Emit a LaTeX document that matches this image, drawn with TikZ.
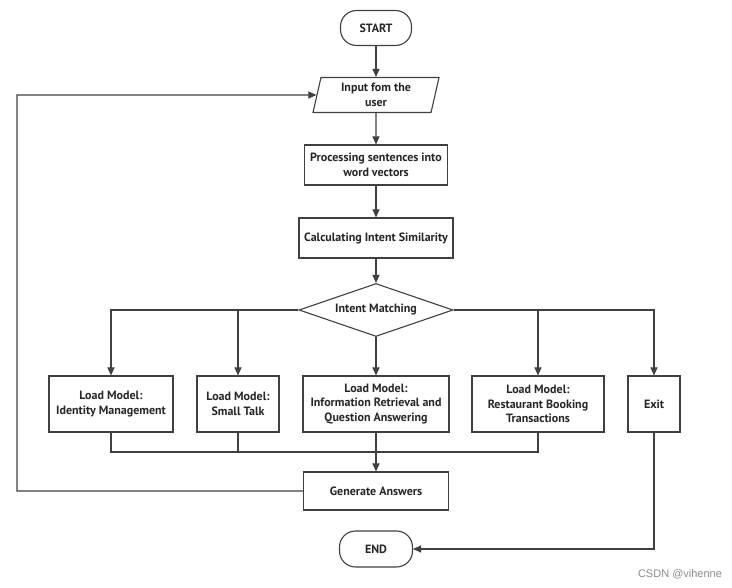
\documentclass[tikz,border=0pt]{standalone}
\usepackage{fontspec}
\setmainfont{PT Sans}
\newfontfamily\wmfont{Liberation Sans}
\usetikzlibrary{shapes.geometric,arrows.meta}
\begin{document}
\begin{tikzpicture}[x=1pt,y=-1pt,line width=1.1pt,
  font=\bfseries\fontsize{12}{14.5}\selectfont,
  box/.style={draw=black!75,align=center,inner sep=0pt,text=black!85},
  arr/.style={draw=black!75,-{Triangle[length=8pt,width=7pt]}},
  ln/.style={draw=black!75}]
\useasboundingbox (0,0) rectangle (732,588);
\fill[white] (0,0) rectangle (732,588);
\node[box,rounded corners=16pt,minimum width=71pt,minimum height=35pt] (start) at (376,28) {START};
\node[box,trapezium,trapezium left angle=71,trapezium right angle=109,trapezium stretches body,minimum width=126pt,minimum height=35pt] (input) at (376,95) {Input fom the\\user};
\node[box,minimum width=143pt,minimum height=40pt] (proc) at (376,165) {Processing sentences into\\word vectors};
\node[box,minimum width=154pt,minimum height=40pt] (calc) at (376,238) {Calculating Intent Similarity};
\node[box,diamond,aspect=2.9,minimum width=154pt,minimum height=53pt] (dia) at (376,310) {Intent Matching};
\node[box,minimum width=124pt,minimum height=56pt] (idm) at (111,404) {Load Model:\\Identity Management};
\node[box,minimum width=82pt,minimum height=56pt] (st) at (238,404) {Load Model:\\Small Talk};
\node[box,minimum width=146pt,minimum height=56pt] (ir) at (376,404) {Load Model:\\Information Retrieval and\\Question Answering};
\node[box,minimum width=132pt,minimum height=56pt] (rb) at (538,404) {Load Model:\\Restaurant Booking\\Transactions};
\node[box,minimum width=52pt,minimum height=56pt] (exit) at (654,404) {Exit};
\node[box,minimum width=145pt,minimum height=38pt] (gen) at (376,491) {Generate Answers};
\node[box,rounded corners=16pt,minimum width=73pt,minimum height=36pt] (end) at (376,549) {END};
\node[font=\wmfont\fontsize{11}{12}\selectfont,text=black!45] (wm) at (680,574) {CSDN @vihenne};
\coordinate (m) at (376,452);
\coordinate (fb) at (17,95);
\draw[arr] (start) -- (input);
\draw[arr] (input) -- (proc);
\draw[arr] (proc) -- (calc);
\draw[arr] (calc) -- (dia);
\draw[arr] (dia.west) -| (idm.north);
\draw[arr] (dia.west -| st.north) -- (st.north);
\draw[arr] (dia.south) -- (ir.north);
\draw[arr] (dia.east) -| (exit.north);
\draw[arr] (dia.east -| rb.north) -- (rb.north);
\draw[ln] (idm.south) |- (m) -| (rb.south);
\draw[ln] (st.south) -- (st.south |- m);
\draw[arr] (ir.south) -- (gen.north);
\draw[arr] (gen.west) -- (gen.west -| fb) -- (fb) -- (input.west);
\draw[arr] (exit.south) |- (end.east);
\end{tikzpicture}
\end{document}
